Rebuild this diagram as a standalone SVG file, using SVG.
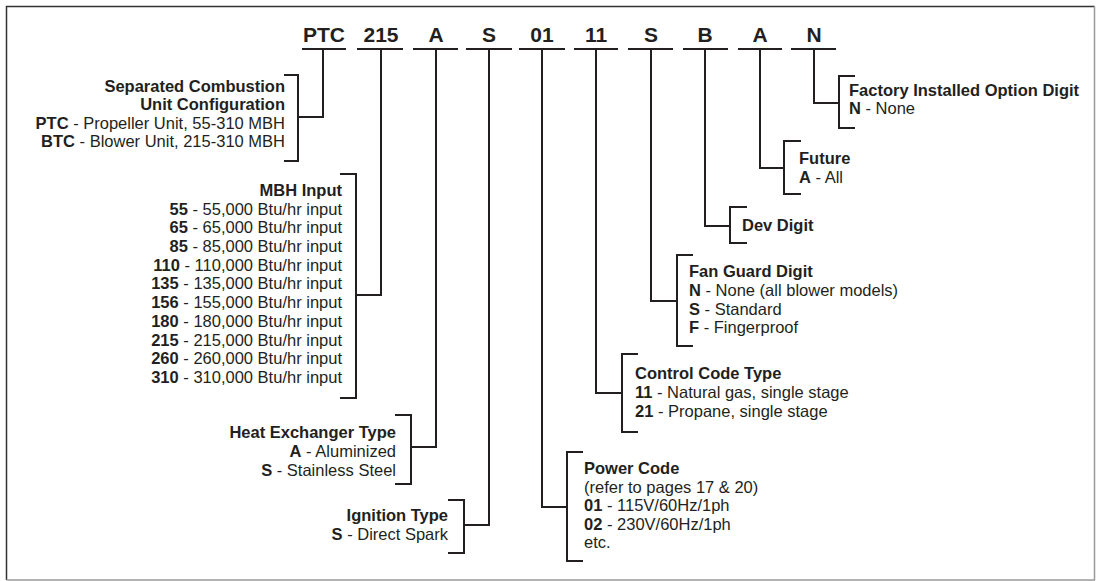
<svg xmlns="http://www.w3.org/2000/svg" width="1096" height="581" viewBox="0 0 1096 581">
<style>
.fr1{fill:none;stroke:#333;stroke-width:1.5}
.fr2{fill:none;stroke:#999;stroke-width:1.5}
.ln{fill:none;stroke:#231f20;stroke-width:2;stroke-linecap:butt;stroke-linejoin:miter}
.hd{font-family:"Liberation Sans",Arial,sans-serif;font-weight:bold;font-size:21px;fill:#231f20;text-anchor:middle}
.t{font-family:"Liberation Sans",Arial,sans-serif;font-size:16.5px;fill:#231f20}
.r{text-anchor:end}
.b{font-weight:bold}
</style>
<g id="frame">
<path class="fr1" d="M6.5 580V6.5H1094.5"/>
<path class="fr2" d="M1094.5 6.5V580H6.5"/>
</g>
<g id="header">
<text class="hd" x="324" y="42">PTC</text>
<text class="hd" x="381" y="42">215</text>
<text class="hd" x="436" y="42">A</text>
<text class="hd" x="489" y="42">S</text>
<text class="hd" x="542" y="42">01</text>
<text class="hd" x="596" y="42">11</text>
<text class="hd" x="651" y="42">S</text>
<text class="hd" x="705" y="42">B</text>
<text class="hd" x="760" y="42">A</text>
<text class="hd" x="814" y="42">N</text>
</g>
<g id="connectors" class="ln">
<path d="M302 49H346M357 49H403M413 49H458M466 49H512M519 49H565M574 49H618M628 49H673M683 49H728M738 49H782M791 49H836"/>
<path d="M323 49V117H298"/>
<path d="M381 49V295H356"/>
<path d="M436 49V447H411"/>
<path d="M489 49V525H464"/>
<path d="M542 49V507H567"/>
<path d="M596 49V393H622"/>
<path d="M651 49V301H677"/>
<path d="M705 49V226H730"/>
<path d="M760 49V168H784"/>
<path d="M814 49V103H839"/>
</g>
<g id="node-config">
<path class="ln" d="M284 75H298V161H284"/>
<text class="t r" x="285" y="92"><tspan class="b">Separated Combustion</tspan></text>
<text class="t r" x="285" y="110"><tspan class="b">Unit Configuration</tspan></text>
<text class="t r" x="285" y="129"><tspan class="b">PTC</tspan> - Propeller Unit, 55-310 MBH</text>
<text class="t r" x="285" y="147"><tspan class="b">BTC</tspan> - Blower Unit, 215-310 MBH</text>
</g>
<g id="node-mbh">
<path class="ln" d="M340 174H356V398H340"/>
<text class="t r" x="342" y="196"><tspan class="b">MBH Input</tspan></text>
<text class="t r" x="342" y="214.5"><tspan class="b">55</tspan> - 55,000 Btu/hr input</text>
<text class="t r" x="342" y="233.2"><tspan class="b">65</tspan> - 65,000 Btu/hr input</text>
<text class="t r" x="342" y="252"><tspan class="b">85</tspan> - 85,000 Btu/hr input</text>
<text class="t r" x="342" y="270.7"><tspan class="b">110</tspan> - 110,000 Btu/hr input</text>
<text class="t r" x="342" y="289.4"><tspan class="b">135</tspan> - 135,000 Btu/hr input</text>
<text class="t r" x="342" y="308.1"><tspan class="b">156</tspan> - 155,000 Btu/hr input</text>
<text class="t r" x="342" y="326.9"><tspan class="b">180</tspan> - 180,000 Btu/hr input</text>
<text class="t r" x="342" y="345.6"><tspan class="b">215</tspan> - 215,000 Btu/hr input</text>
<text class="t r" x="342" y="364.3"><tspan class="b">260</tspan> - 260,000 Btu/hr input</text>
<text class="t r" x="342" y="383"><tspan class="b">310</tspan> - 310,000 Btu/hr input</text>
</g>
<g id="node-heat">
<path class="ln" d="M395 415H411V484H395"/>
<text class="t r" x="396" y="438"><tspan class="b">Heat Exchanger Type</tspan></text>
<text class="t r" x="396" y="457"><tspan class="b">A</tspan> - Aluminized</text>
<text class="t r" x="396" y="476"><tspan class="b">S</tspan> - Stainless Steel</text>
</g>
<g id="node-ignition">
<path class="ln" d="M448 500H464V553H448"/>
<text class="t r" x="448" y="521"><tspan class="b">Ignition Type</tspan></text>
<text class="t r" x="448" y="540"><tspan class="b">S</tspan> - Direct Spark</text>
</g>
<g id="node-power">
<path class="ln" d="M583 452H567V561H583"/>
<text class="t" x="584" y="474"><tspan class="b">Power Code</tspan></text>
<text class="t" x="584" y="492.5">(refer to pages 17 &amp; 20)</text>
<text class="t" x="584" y="511"><tspan class="b">01</tspan> - 115V/60Hz/1ph</text>
<text class="t" x="584" y="529.5"><tspan class="b">02</tspan> - 230V/60Hz/1ph</text>
<text class="t" x="584" y="548">etc.</text>
</g>
<g id="node-control">
<path class="ln" d="M638 354H622V432H638"/>
<text class="t" x="635" y="379"><tspan class="b">Control Code Type</tspan></text>
<text class="t" x="635" y="398"><tspan class="b">11</tspan> - Natural gas, single stage</text>
<text class="t" x="635" y="417"><tspan class="b">21</tspan> - Propane, single stage</text>
</g>
<g id="node-fanguard">
<path class="ln" d="M693 255H677V346H693"/>
<text class="t" x="689" y="277"><tspan class="b">Fan Guard Digit</tspan></text>
<text class="t" x="689" y="296"><tspan class="b">N</tspan> - None (all blower models)</text>
<text class="t" x="689" y="315"><tspan class="b">S</tspan> - Standard</text>
<text class="t" x="689" y="333"><tspan class="b">F</tspan> - Fingerproof</text>
</g>
<g id="node-dev">
<path class="ln" d="M747 207H730V243H747"/>
<text class="t" x="742" y="231"><tspan class="b">Dev Digit</tspan></text>
</g>
<g id="node-future">
<path class="ln" d="M801 141H784V194H801"/>
<text class="t" x="799" y="164"><tspan class="b">Future</tspan></text>
<text class="t" x="799" y="183"><tspan class="b">A</tspan> - All</text>
</g>
<g id="node-factory">
<path class="ln" d="M855 76H839V128H855"/>
<text class="t" x="849" y="96"><tspan class="b">Factory Installed Option Digit</tspan></text>
<text class="t" x="849" y="114"><tspan class="b">N</tspan> - None</text>
</g>
</svg>
